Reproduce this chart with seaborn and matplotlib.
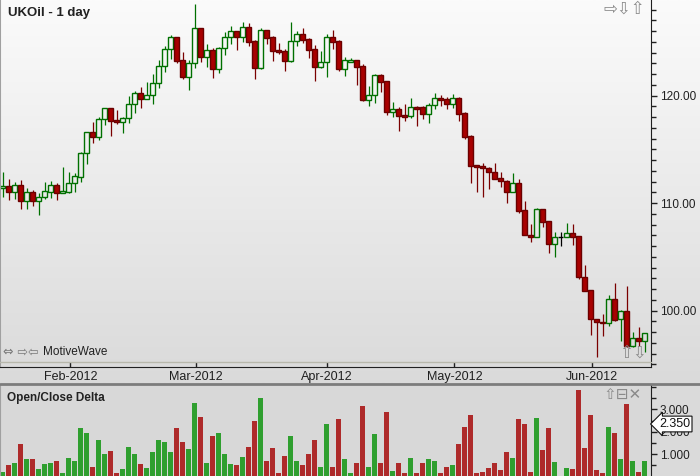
import numpy as np
import pandas as pd
import matplotlib.pyplot as plt
from matplotlib.lines import Line2D
from matplotlib.ticker import MultipleLocator
from matplotlib.colors import LinearSegmentedColormap
import seaborn as sns

# daily OHLC
opens = [111.44, 111.60, 111.07, 111.69, 110.23, 111.01, 110.23, 110.55, 111.07, 111.69,
         110.98, 111.07, 111.85, 112.47, 114.64, 116.60, 116.19, 117.80, 118.83, 117.74,
         117.58, 117.90, 119.20, 120.22, 119.67, 120.04, 121.15, 122.76, 124.32, 125.43,
         123.32, 121.77, 123.01, 126.27, 123.63, 124.25, 122.46, 124.41, 125.43, 125.99,
         125.49, 126.36, 125.06, 122.60, 126.11, 125.46, 124.25, 124.16, 123.26, 125.06,
         125.74, 125.27, 124.34, 122.70, 123.11, 125.46, 125.09, 122.51, 123.16, 123.32,
         122.76, 119.63, 120.04, 121.93, 121.37, 118.51, 118.76, 118.20, 118.14, 118.95,
         118.95, 118.33, 119.11, 119.79, 119.69, 119.26, 119.79, 118.39, 116.25, 113.55,
         113.46, 113.25, 112.87, 112.32, 112.09, 111.01, 111.85, 109.37, 107.04, 106.83,
         109.46, 108.34, 106.18, 106.83, 106.83, 107.20, 106.95, 103.14, 101.93, 99.23,
         98.98, 98.83, 101.06, 99.20, 99.97, 96.74, 97.43, 97.21]
highs = [112.93, 112.25, 111.94, 112.16, 111.39, 111.23, 110.98, 111.94, 112.07, 111.91,
         113.40, 112.87, 112.78, 114.79, 116.65, 117.53, 117.99, 118.88, 118.88, 118.67,
         118.05, 119.94, 120.44, 120.81, 121.27, 122.02, 123.32, 124.62, 125.67, 125.49,
         124.09, 123.32, 128.53, 126.27, 124.81, 124.41, 124.50, 125.95, 126.48, 126.02,
         126.86, 126.73, 125.18, 126.30, 126.11, 125.55, 124.93, 124.34, 126.86, 126.02,
         126.30, 125.37, 124.72, 124.16, 125.77, 126.11, 125.18, 123.57, 123.51, 123.32,
         122.92, 120.90, 122.02, 122.02, 121.37, 119.41, 118.98, 119.23, 119.81, 119.04,
         119.04, 119.32, 120.25, 120.07, 119.88, 120.16, 119.85, 118.48, 116.32, 113.55,
         113.71, 113.34, 113.71, 112.90, 112.16, 112.84, 112.22, 110.23, 108.07, 109.53,
         109.46, 108.34, 107.29, 107.29, 108.13, 108.07, 106.95, 104.25, 101.93, 99.23,
         99.69, 101.46, 102.60, 100.06, 102.33, 97.99, 98.46, 97.90]
lows = [110.60, 110.30, 110.39, 109.46, 109.46, 109.77, 108.90, 110.36, 110.51, 110.30,
        110.92, 110.92, 111.07, 112.00, 113.65, 115.63, 115.88, 117.27, 116.28, 117.40,
        116.56, 117.43, 118.36, 118.88, 119.67, 119.23, 120.69, 122.23, 123.39, 123.07,
        121.55, 120.53, 122.55, 123.16, 122.70, 121.67, 122.08, 123.79, 124.78, 124.25,
        125.00, 124.65, 121.55, 122.48, 124.84, 123.23, 123.85, 122.33, 123.16, 124.65,
        124.93, 123.53, 121.40, 122.60, 121.77, 124.37, 122.33, 121.86, 123.13, 121.02,
        119.51, 119.07, 119.35, 120.37, 118.20, 118.02, 116.74, 117.67, 117.95, 117.21,
        117.83, 117.49, 118.79, 119.04, 118.79, 118.86, 117.67, 115.97, 111.88, 111.07,
        110.60, 111.32, 112.22, 111.48, 110.05, 111.01, 109.12, 107.01, 106.42, 106.83,
        107.81, 105.40, 105.02, 106.05, 106.83, 106.11, 102.92, 101.86, 97.74, 95.67,
        97.67, 98.60, 99.07, 97.21, 96.65, 96.60, 96.74, 96.19]
closes = [111.63, 111.07, 111.69, 110.23, 111.01, 110.23, 110.55, 111.11, 111.67, 110.98,
          111.13, 111.88, 112.53, 114.64, 116.60, 116.19, 117.83, 118.83, 117.67, 117.58,
          117.90, 119.20, 120.22, 119.67, 120.04, 121.15, 122.76, 124.32, 125.43, 123.26,
          121.77, 123.01, 126.27, 123.63, 124.25, 122.46, 124.41, 125.43, 125.99, 125.49,
          126.36, 125.02, 122.60, 126.11, 125.40, 124.19, 124.09, 123.26, 125.06, 125.74,
          125.21, 124.28, 122.70, 123.11, 125.46, 125.02, 122.51, 123.29, 123.32, 122.70,
          119.60, 120.04, 121.93, 121.30, 118.51, 118.76, 118.14, 118.05, 118.95, 118.79,
          118.33, 119.11, 119.79, 119.63, 119.26, 119.76, 118.33, 116.16, 113.49, 113.40,
          113.25, 112.87, 112.28, 112.04, 111.01, 111.85, 109.30, 107.01, 106.83, 109.46,
          108.28, 106.18, 106.83, 106.83, 107.20, 106.88, 103.11, 101.86, 99.20, 98.92,
          98.83, 101.06, 99.13, 99.97, 96.74, 97.43, 97.21, 97.90]

month_labels = ['Feb-2012', 'Mar-2012', 'Apr-2012', 'May-2012', 'Jun-2012']
month_pos = [11.3, 32.3, 54.0, 75.3, 98.3]
price_ticks = [100, 110, 120]
delta_ticks = [1, 2, 3]
cursor_value = 2.35

df = pd.DataFrame({'o': opens, 'h': highs, 'l': lows, 'c': closes})
df['idx'] = np.arange(len(df))
df['delta'] = (df['c'] - df['o']).abs()
df['dir'] = np.where(df['c'] > df['o'], 'up', np.where(df['c'] < df['o'], 'down', 'flat'))
df['top'] = df[['o', 'c']].max(axis=1)
df['bot'] = df[['o', 'c']].min(axis=1)

sns.set_style('ticks')
plt.rcParams['font.family'] = ['Liberation Sans', 'DejaVu Sans']

W, H = 700, 476
fig = plt.figure(figsize=(7, 4.76), dpi=100, facecolor='#dadada')


def box(x0, y0, x1, y1):
    # pixel rectangle (top-left origin) -> figure fraction
    return [x0 / W, 1 - y1 / H, (x1 - x0) / W, (y1 - y0) / H]


# background gradient of the price pane
bg = fig.add_axes(box(0, 0, W, 383), zorder=0)
grad = np.linspace(0, 1, 256)[:, None]
bg.imshow(grad, cmap=LinearSegmentedColormap.from_list('bg', ['#fbfbfb', '#dadada']),
          aspect='auto', extent=[0, 1, 0, 1])
bg.axis('off')

# price pane
ax = fig.add_axes(box(0, 0, 651, 367), zorder=1)
ax.patch.set_alpha(0)

edge = {'up': '#007000', 'down': '#6a0000', 'flat': '#000000'}
fill = {'up': 'none', 'down': '#a80000', 'flat': '#000000'}
wick = {'up': '#007000', 'down': '#7a0000', 'flat': '#000000'}
cols = df['dir'].map(wick)

ax.vlines(df['idx'], df['top'], df['h'], colors=cols, lw=0.9)
ax.vlines(df['idx'], df['l'], df['bot'], colors=cols, lw=0.9)
ax.bar(df['idx'], df['top'] - df['bot'], bottom=df['bot'], width=0.68,
       facecolor=df['dir'].map(fill), edgecolor=df['dir'].map(edge), lw=1.0)

ax.set_xlim(-0.417, 108.08)
ax.set_ylim(94.76, 128.90)
ax.yaxis.tick_right()
ax.set_yticks(price_ticks, [f'{v:.2f}' for v in price_ticks])
ax.yaxis.set_minor_locator(MultipleLocator(1))
ax.tick_params(axis='y', which='major', direction='out', length=4.5, width=1,
               labelsize=8.5, pad=2, colors='#202020')
ax.tick_params(axis='y', which='minor', direction='out', length=3.5, width=1, color='#202020')
ax.set_xticks(month_pos, month_labels)
ax.tick_params(axis='x', direction='in', length=3.6, width=1, labelsize=9, pad=3,
               colors='#202020')
ax.spines['top'].set_visible(False)
ax.spines['left'].set_color('#a0a0a0')
ax.spines['left'].set_linewidth(1.5)
ax.spines['bottom'].set_color('#202020')
ax.spines['right'].set_color('#202020')

fig.add_artist(Line2D([0, 651 / W], [1 - 362 / H] * 2, color='#b8b8ac', lw=1))
fig.add_artist(Line2D([0, 1], [1 - 384 / H] * 2, color='#7c7c7c', lw=2))

# delta pane
ax2 = fig.add_axes(box(0, 385, 651, 476), zorder=1)
ax2.set_facecolor('#d8d8d8')
sns.barplot(data=df, x='idx', y='delta', hue='dir', hue_order=['up', 'down', 'flat'],
            palette={'up': '#2f9f2f', 'down': '#ae2a2a', 'flat': '#303030'},
            dodge=False, width=0.78, saturation=1, errorbar=None, legend=False,
            linewidth=0, ax=ax2)
ax2.set_xlim(-0.417, 108.08)
ax2.set_ylim(0.03, 4.08)
ax2.set_xlabel('')
ax2.set_ylabel('')
ax2.set_xticks([])
ax2.yaxis.tick_right()
ax2.set_yticks(delta_ticks, [f'{v:.3f}' for v in delta_ticks])
ax2.yaxis.set_minor_locator(MultipleLocator(0.5))
ax2.tick_params(axis='y', which='major', direction='out', length=4.5, width=1,
                labelsize=8.5, pad=2, colors='#202020')
ax2.tick_params(axis='y', which='minor', direction='out', length=3.5, width=1, color='#202020')
ax2.spines['top'].set_visible(False)
ax2.spines['bottom'].set_visible(False)
ax2.spines['left'].set_color('#a0a0a0')
ax2.spines['right'].set_color('#202020')

# labels and chrome
fig.text(8 / W, 1 - 13 / H, 'UKOil - 1 day', fontsize=9.5, fontweight='bold',
         va='center', color='#222222')
fig.text(7 / W, 1 - 398 / H, 'Open/Close Delta', fontsize=8.5, fontweight='bold',
         va='center', color='#222222')
fig.text(43 / W, 1 - 352 / H, 'MotiveWave', fontsize=8.5, va='center', color='#222222')
fig.text(3 / W, 1 - 352 / H, '⇔ ⇨⇦', fontsize=9, va='center', color='#777777',
         family='DejaVu Sans')
fig.text(603 / W, 1 - 9 / H, '⇨⇩⇧', fontsize=12, va='center', color='#8a8a8a',
         family='DejaVu Sans')
fig.text(619 / W, 1 - 353 / H, '⇧⇩', fontsize=12, va='center', color='#8a8a8a',
         family='DejaVu Sans')
fig.text(603 / W, 1 - 395 / H, '⇧⊟✕', fontsize=11, va='center', color='#8a8a8a',
         family='DejaVu Sans')
fig.text(659 / W, 1 - 424 / H, f'{cursor_value:.3f}', fontsize=9, ha='left', va='center',
         color='#111111',
         bbox=dict(boxstyle='larrow,pad=0.15', fc='white', ec='#111111', lw=0.8))

fig.savefig('out.png', dpi=100, facecolor=fig.get_facecolor())
